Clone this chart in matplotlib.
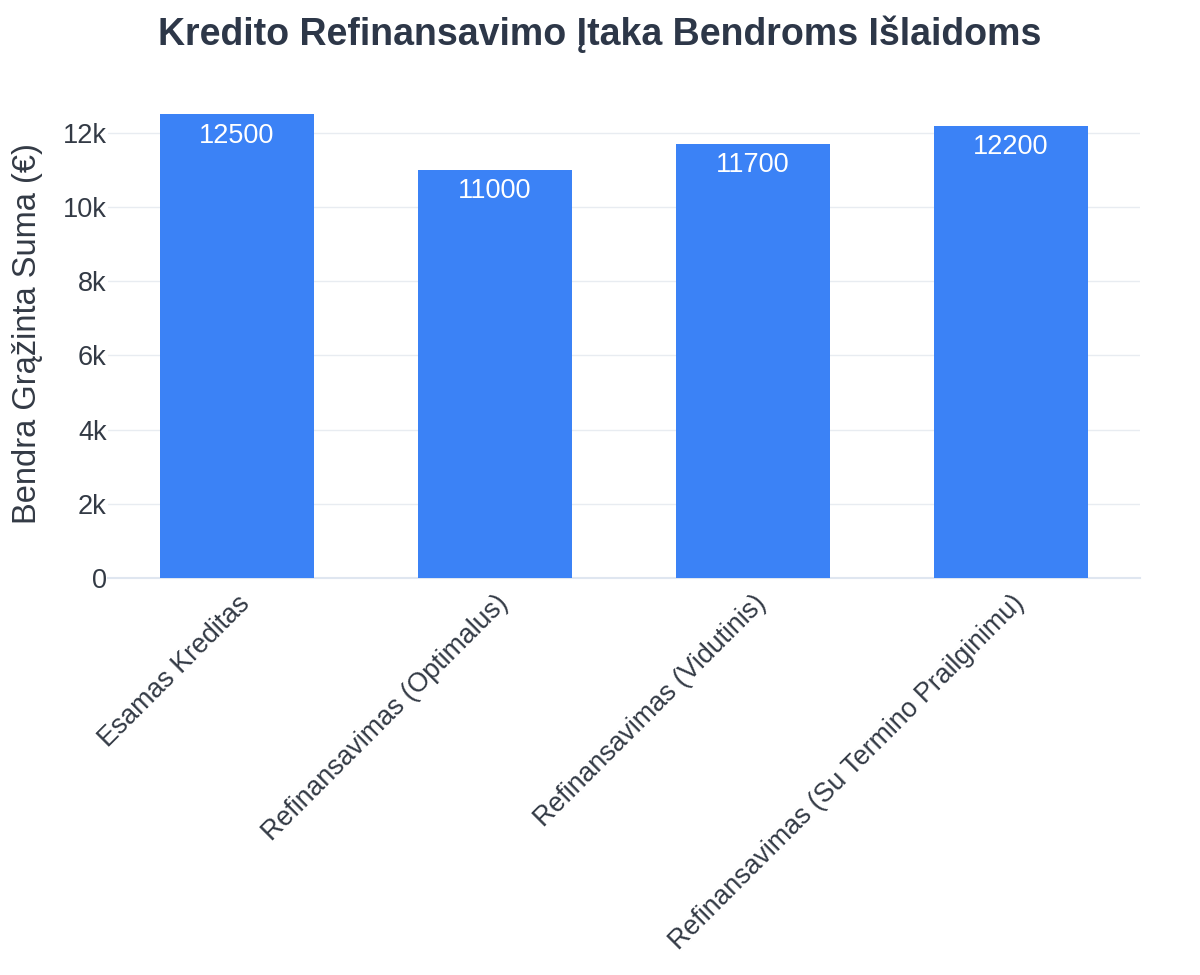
import matplotlib
matplotlib.use("Agg")
import matplotlib.pyplot as plt

categories = ["Esamas Kreditas", "Refinansavimas (Optimalus)",
              "Refinansavimas (Vidutinis)", "Refinansavimas (Su Termino Prailginimu)"]
values = [12500, 11000, 11700, 12200]
yticks = [0, 2000, 4000, 6000, 8000, 10000, 12000]
ytick_labels = ["0", "2k", "4k", "6k", "8k", "10k", "12k"]

plt.rcParams['font.family'] = ['Liberation Sans', 'DejaVu Sans']
dark = "#333a45"

fig = plt.figure(figsize=(12, 9.75), dpi=100)
ax = fig.add_axes([0.09, 0.4072, 0.86, 0.5005])
x = list(range(len(categories)))
ax.bar(x, values, width=0.6, color="#3b82f6", zorder=3)
for xi, v in zip(x, values):
    ax.text(xi, v - 220, str(v), ha="center", va="top", color="white", fontsize=19.5, zorder=4)

ax.set_xlim(-0.5, len(categories) - 0.5)
ax.set_ylim(0, 13158)
ax.set_yticks(yticks)
ax.set_yticklabels(ytick_labels)
ax.set_xticks(x)
ax.set_xticklabels(categories, rotation=45, ha="right", rotation_mode="anchor")
ax.tick_params(axis="y", length=0, pad=1, labelsize=19.5, labelcolor=dark)
ax.tick_params(axis="x", length=0, pad=9, labelsize=19.3, labelcolor=dark)
ax.grid(axis="y", color="#e8ecf1", linewidth=1, zorder=0)
for s in ["top", "right", "left"]:
    ax.spines[s].set_visible(False)
ax.spines["bottom"].set_color("#dfe6f0")
ax.spines["bottom"].set_linewidth(1.5)
ax.set_ylabel("Bendra Grąžinta Suma (€)", fontsize=23.5, color=dark, labelpad=14)
fig.suptitle("Kredito Refinansavimo Įtaka Bendroms Išlaidoms", fontsize=27, fontweight="bold",
             color="#2d3748", y=0.984)
fig.savefig("out.png", dpi=100, facecolor="white")
